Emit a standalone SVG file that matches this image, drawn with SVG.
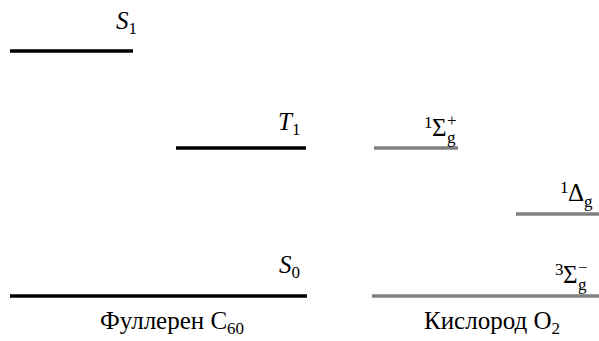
<svg xmlns="http://www.w3.org/2000/svg" width="599" height="341" viewBox="0 0 599 341">
<style>
.b{stroke:#000;stroke-width:3.5;fill:none}
.g{stroke:#808080;stroke-width:3.5;fill:none}
text{font-family:'Liberation Serif','Times New Roman',serif;font-size:25px;fill:#000}
.i{font-style:italic}
.s{font-size:17px}
</style>
<rect width="599" height="341" fill="#fff"/>
<g id="S1"><line class="b" x1="10" y1="51" x2="133" y2="51"/><text x="116" y="29"><tspan class="i">S</tspan><tspan class="s" dy="5">1</tspan></text></g>
<g id="T1"><line class="b" x1="176" y1="148" x2="306" y2="148"/><text x="278" y="130"><tspan class="i">T</tspan><tspan class="s" dy="5">1</tspan></text></g>
<g id="S0"><line class="b" x1="10" y1="296" x2="307" y2="296"/><text x="279" y="273"><tspan class="i">S</tspan><tspan class="s" dy="5">0</tspan></text></g>
<g id="O2_1Sigma"><line class="g" x1="374" y1="148" x2="458" y2="148"/>
<text class="s" x="424" y="128">1</text><text x="432" y="136">Σ</text><text class="s" x="447" y="143">g</text><text class="s" x="447" y="126">+</text></g>
<g id="O2_1Delta"><line class="g" x1="516" y1="214" x2="599" y2="214"/>
<text class="s" x="560" y="193">1</text><text x="568" y="201">Δ</text><text class="s" x="584" y="207">g</text></g>
<g id="O2_3Sigma"><line class="g" x1="372" y1="296" x2="599" y2="296"/>
<text class="s" x="555" y="275">3</text><text x="563" y="283">Σ</text><text class="s" x="578" y="290">g</text><text class="s" x="578" y="273">−</text></g>
<g id="labels"><text x="100" y="329">Фуллерен C<tspan class="s" dy="5">60</tspan></text><text x="424" y="329">Кислород O<tspan class="s" dy="5">2</tspan></text></g>
</svg>
